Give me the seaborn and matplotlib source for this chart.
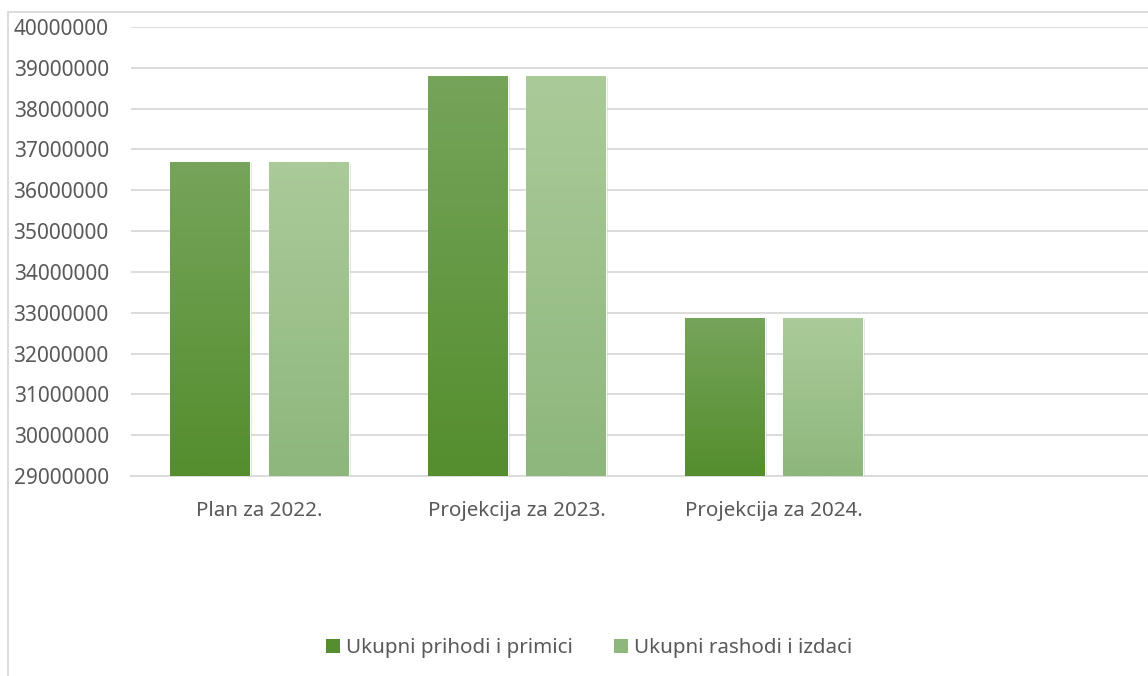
import numpy as np
import pandas as pd
import matplotlib
matplotlib.use("Agg")
import matplotlib.pyplot as plt
import matplotlib.patheffects as pe
from matplotlib.lines import Line2D
from matplotlib.colors import to_rgb
import seaborn as sns

# podaci
kategorije = ["Plan za 2022.", "Projekcija za 2023.", "Projekcija za 2024."]
prihodi = [36700000, 38800000, 32880000]
rashodi = [36700000, 38800000, 32880000]
serije = ["Ukupni prihodi i primici", "Ukupni rashodi i izdaci"]

df = pd.DataFrame({
    "Kategorija": kategorije * 2,
    "Serija": [serije[0]] * 3 + [serije[1]] * 3,
    "Iznos": prihodi + rashodi,
})

# boje (vrh, dno gradijenta)
boje = {serije[0]: ("#76A45A", "#548E2E"), serije[1]: ("#AACB99", "#8EB77C")}
siva = "#595959"

sns.set_style("white")
plt.rcParams["font.family"] = ["Noto Sans", "DejaVu Sans"]

fig = plt.figure(figsize=(11.48, 6.76), dpi=100)
ax = fig.add_axes([131 / 1148, 1 - 476 / 676, 1029 / 1148, 449 / 676])

sns.barplot(data=df, x="Kategorija", y="Iznos", hue="Serija",
            palette={k: v[1] for k, v in boje.items()},
            width=0.766, gap=0.19, ax=ax, legend=False, zorder=3)

ymin, ymax = 29000000, 40000000
ax.set_ylim(ymin, ymax)
ax.set_xlim(-0.5, 3.5)

# gradijent na stupcima
t = np.linspace(0, 1, 64)[:, None]
for i, patch in enumerate(ax.patches):
    ser = serije[i // 3]
    top, bot = boje[ser]
    x0 = patch.get_x()
    x1 = x0 + patch.get_width()
    h = patch.get_height()
    patch.set_path_effects([pe.SimplePatchShadow(offset=(1.5, -1), shadow_rgbFace="#999999", alpha=0.3),
                            pe.Normal()])
    c0 = np.array(to_rgb(top))
    c1 = np.array(to_rgb(bot))
    img = (c0 * (1 - t) + c1 * t)[:, None, :]
    im = ax.imshow(img, extent=[x0, x1, ymin, h], aspect="auto", zorder=4,
                   interpolation="bilinear")
    im.set_clip_path(patch)

ax.set_yticks(np.arange(ymin, ymax + 1, 1000000))
ax.yaxis.set_major_formatter(matplotlib.ticker.FuncFormatter(lambda v, p: f"{int(v)}"))
ax.grid(axis="y", color="#D9D9D9", linewidth=1.3, zorder=0)
ax.set_axisbelow(True)

ax.set_xticks([-0.5, 0.5, 1.5, 2.5, 3.5])
ax.set_xticklabels([])
ax.set_xticks([0, 1, 2], minor=True)
ax.set_xticklabels(kategorije, minor=True)
ax.tick_params(axis="x", which="major", length=7, width=1.3, color="#D9D9D9", direction="out")
ax.tick_params(axis="x", which="minor", length=0, pad=18, labelsize=14.8, labelcolor=siva)
ax.tick_params(axis="y", length=0, pad=16, labelsize=15, labelcolor=siva)

for s in ["left", "right", "top"]:
    ax.spines[s].set_visible(False)
ax.spines["bottom"].set_color("#D9D9D9")
ax.spines["bottom"].set_linewidth(1.3)
ax.set_xlabel("")
ax.set_ylabel("")

# legenda
handles = [plt.Rectangle((0, 0), 1, 1, facecolor=boje[s][1], edgecolor="none") for s in serije]
fig.legend(handles, serije, loc="center", bbox_to_anchor=(589 / 1148, 1 - 648 / 676),
           ncol=2, frameon=False, fontsize=14.8, labelcolor=siva,
           handlelength=0.68, handleheight=0.68, handletextpad=0.3, columnspacing=2.0)

# okvir grafikona
fig.add_artist(Line2D([8 / 1148, 8 / 1148], [0, 1 - 12 / 676], color="#D9D9D9", lw=1.3))
fig.add_artist(Line2D([8 / 1148, 1], [1 - 12 / 676, 1 - 12 / 676], color="#D9D9D9", lw=1.3))

fig.savefig("out.png", dpi=100)
